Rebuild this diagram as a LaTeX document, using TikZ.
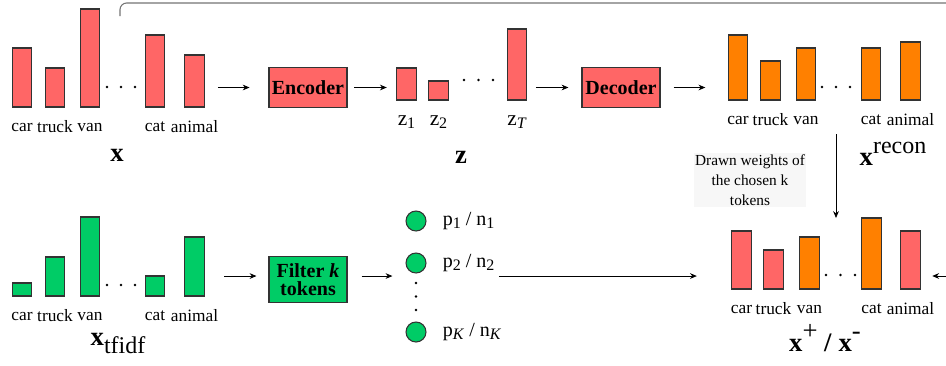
\documentclass[tikz,border=0pt]{standalone}
\usepackage{fontspec}
\setmainfont{Liberation Serif}
\usetikzlibrary{positioning}
\usetikzlibrary{arrows.meta}
\tikzset{>={Stealth[width=1.5mm,length=1.8mm]}}
\definecolor{barred}{HTML}{FF6666}
\definecolor{barorange}{HTML}{FF8000}
\definecolor{bargreen}{HTML}{00CC66}
\newcommand\lowsub[1]{\raisebox{-0.35ex}{\fontsize{12}{12}\selectfont #1}}

\begin{document}
\begin{tikzpicture}[
    x = 0.75pt, y = -0.75pt,
    bar/.style = {draw=black!80, line width=0.8pt, minimum width=14.6pt,
        inner sep=0pt, outer sep=0pt, anchor=south},
    word/.style = {inner sep=0pt, font=\fontsize{13}{13}\selectfont},
    block/.style = {draw=black!80, line width=0.8pt, minimum width=58.5pt,
        minimum height=29.5pt, inner sep=0pt, align=center,
        font=\bfseries\fontsize{15}{15}\selectfont},
    token/.style = {circle, draw=black!80, line width=0.8pt, fill=bargreen,
        minimum size=15pt, inner sep=0pt},
    plabel/.style = {inner sep=0pt, anchor=west, font=\fontsize{15}{15}\selectfont},
    vname/.style = {inner sep=0pt, font=\fontsize{20}{20}\selectfont},
    every path/.style = {line width=0.6pt}
  ]
  \useasboundingbox (0,0) rectangle (946,365);

  % input x
  \foreach \w/\c/\h in {car/22/59, truck/55/39, van/90/98, cat/155/72, animal/194.5/52}
  {
    \node[bar, fill=barred, minimum height=\h*0.75pt] (x\w) at (\c,107) {};
    \node[word] (x\w-l) at (\c,127) {\w};
  }
  \foreach \i in {0,1,2} \fill (107+14*\i,87) circle (1.1pt);
  \node[vname] (xname) at (117,155) {\textbf{x}};

  % encoder and latent z
  \node[block, fill=barred] (enc) at (308,87.5) {Encoder};
  \foreach \w/\c/\h/\s in {z1/406.5/32/1, z2/438.5/19/2, zT/517/71/\textit{T}}
  {
    \node[bar, fill=barred, minimum height=\h*0.75pt] (\w) at (\c,100) {};
    \node[word, font=\fontsize{16}{16}\selectfont] (\w-l) at (\c,122) {z\lowsub{\s}};
  }
  \foreach \i in {0,1,2} \fill (464+14.5*\i,80) circle (1.1pt);
  \node[vname] (zname) at (461,157) {\textbf{z}};
  \node[block, fill=barred] (dec) at (621,87.5) {Decoder};

  % reconstruction
  \foreach \w/\c/\h in {car/738/65, truck/770.5/39, van/806/52, cat/871/52, animal/910.5/58}
  {
    \node[bar, fill=barorange, minimum height=\h*0.75pt] (r\w) at (\c,100) {};
    \node[word] (r\w-l) at (\c,120) {\w};
  }
  \foreach \i in {0,1,2} \fill (822+14*\i,87) circle (1.1pt);
  \node[vname] (rname) at (893,154) {\textbf{x}\raisebox{0.45em}{\fontsize{18}{18}\selectfont recon}};

  \draw[->, shorten <=10.3pt, shorten >=14.2pt] (enc.west -| xanimal.east) -- (enc.west);
  \draw[->, shorten <=5.2pt, shorten >=7.5pt] (enc.east) -- (enc.east -| z1.west);
  \draw[->, shorten <=6.8pt, shorten >=9.8pt] (dec.west -| zT.east) -- (dec.west);
  \draw[->, shorten <=9.8pt, shorten >=17.2pt] (dec.east) -- (dec.east -| rcar.west);

  % tf-idf input
  \foreach \w/\c/\h in {car/22/13, truck/55/39, van/90/79, cat/155/20, animal/194.5/59}
  {
    \node[bar, fill=bargreen, minimum height=\h*0.75pt] (t\w) at (\c,296) {};
    \node[word] (t\w-l) at (\c,316) {\w};
  }
  \foreach \i in {0,1,2} \fill (107+14*\i,285) circle (1.1pt);
  \node[vname] (tname) at (118,343) {\textbf{x}\raisebox{-0.3em}{\fontsize{18}{18}\selectfont tfidf}};

  \node[block, fill=bargreen, minimum height=34pt] (filt) at (308,279.5)
    {Filter \textit{k}\\[-1pt]tokens};

  % chosen tokens
  \node[token] (c1) at (416,221) {};
  \node[token] (c2) at (416,263) {};
  \node[token] (cK) at (416,332) {};
  \foreach \y in {283,296.5,310} \fill (416,\y) circle (1.1pt);
  \node[plabel, right=12pt of c1] (l1) {p\lowsub{1} / n\lowsub{1}};
  \node[plabel, right=12pt of c2] (l2) {p\lowsub{2} / n\lowsub{2}};
  \node[plabel, right=12pt of cK] (lK) {p\lowsub{\textit{K}} / n\lowsub{\textit{K}}};

  % positive / negative
  \foreach \w/\c/\h/\f in {car/741.5/58/barred, truck/773.5/39/barred, van/809.5/52/barorange,
      cat/871.5/71/barorange, animal/910.5/58/barred}
  {
    \node[bar, fill=\f, minimum height=\h*0.75pt] (p\w) at (\c,289) {};
    \node[word] (p\w-l) at (\c,309) {\w};
  }
  \foreach \i in {0,1,2} \fill (826+14.5*\i,275) circle (1.1pt);
  \node[vname] (pname) at (825,338)
    {\textbf{x}\raisebox{0.45em}{+} \textbf{/} \textbf{x}\raisebox{0.45em}{-}};

  \draw[->, shorten <=15pt, shorten >=9pt]
    ([yshift=2.6pt]filt.west -| tanimal.east) -- ([yshift=2.6pt]filt.west);
  \draw[->, shorten <=10.5pt, shorten >=9.8pt]
    ([yshift=2.6pt]filt.east) -- ([yshift=2.6pt]filt.east -| c2.west);
  \draw[->, shorten <=3pt, shorten >=26.2pt]
    ([yshift=2.6pt]filt.east -| l2.east) -- ([yshift=2.6pt]filt.east -| pcar.west);

  % drawn weights
  \node[inner sep=1pt, fill=black!3, align=center, font=\fontsize{11.5}{15}\selectfont]
    (wtext) at (750,180) {Drawn weights of\\the chosen k\\tokens};
  \coordinate (wtop) at (836,134);
  \draw[->] (wtop) -- (wtop |- pcat.north);

  % loop back
  \coordinate (loopstart) at (120,16);
  \coordinate (loopend) at (946,3);
  \draw[black!55, line width=0.8pt, rounded corners=5pt] (loopstart) |- (loopend);
  \coordinate (rin) at (946,276);
  \draw[->, shorten >=9pt] (rin) -- (rin -| panimal.east);
\end{tikzpicture}
\end{document}
